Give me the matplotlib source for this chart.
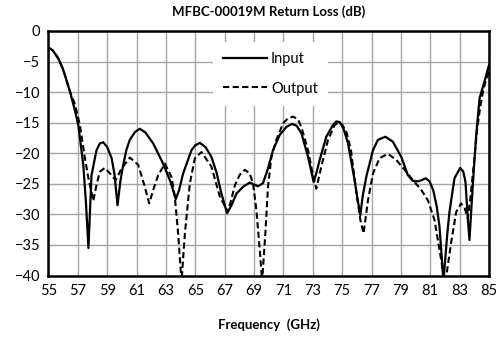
import matplotlib
matplotlib.use("Agg")
import matplotlib.pyplot as plt
import numpy as np

plt.rcParams['font.family'] = ['Lato', 'DejaVu Sans']

# valores (GHz, dB)
freq_in = [55.0, 55.3, 55.67, 56.0, 56.46, 56.8, 57.03, 57.37, 57.55, 57.72,
           57.93, 58.27, 58.5, 58.73, 59.0, 59.3, 59.5, 59.7, 59.9, 60.09,
           60.3, 60.54, 60.9, 61.22, 61.6, 62.13, 62.81, 63.3, 63.67, 63.9,
           64.17, 64.74, 65.0, 65.31, 65.7, 66.1, 66.45, 66.78, 67.16, 67.45,
           67.8, 68.25, 68.7, 69.27, 69.61, 69.95, 70.29, 70.75, 71.2, 71.59,
           71.9, 72.22, 72.68, 72.9, 73.06, 73.25, 73.47, 73.92, 74.37, 74.6,
           74.83, 75.1, 75.4, 75.85, 76.05, 76.24, 76.4, 76.65, 77.1, 77.44,
           77.95, 78.45, 79.03, 79.48, 79.8, 80.2, 80.7, 80.95, 81.2, 81.45,
           81.63, 81.8, 81.9, 82.0, 82.15, 82.31, 82.65, 83.04, 83.25, 83.4,
           83.56, 83.67, 83.9, 84.13, 84.36, 84.69, 85.0]
rl_in = [-2.7, -3.2, -4.5, -6.3, -9.9, -13.0, -15.4, -21.9, -28.0, -35.5,
         -23.6, -19.5, -18.4, -18.2, -19.0, -20.8, -23.5, -28.5, -24.5, -21.9,
         -19.5, -17.8, -16.5, -16.0, -16.6, -18.4, -21.7, -24.6, -27.5, -26.0,
         -23.3, -19.5, -18.7, -18.3, -19.0, -20.6, -23.2, -26.6, -29.8, -28.6,
         -26.6, -25.5, -24.8, -25.4, -24.9, -22.5, -19.5, -17.0, -15.7, -15.2,
         -15.5, -16.7, -20.6, -23.0, -24.7, -23.2, -21.1, -17.3, -15.4, -14.8,
         -14.9, -16.0, -18.4, -24.4, -27.5, -30.1, -27.0, -23.8, -19.5, -17.8,
         -17.3, -18.1, -20.6, -23.6, -24.5, -24.6, -24.1, -24.6, -26.0, -28.8,
         -32.0, -37.5, -41.0, -38.0, -33.5, -29.6, -24.1, -22.4, -23.0, -24.7,
         -30.7, -34.2, -25.2, -17.0, -11.0, -8.3, -5.6]

freq_out = [55.0, 55.3, 55.67, 56.0, 56.46, 56.8, 57.14, 57.48, 57.75, 57.93,
            58.05, 58.27, 58.5, 58.84, 59.3, 59.57, 59.98, 60.54, 61.11, 61.5,
            61.86, 62.2, 62.47, 62.93, 63.38, 63.6, 63.83, 64.06, 64.29, 64.63,
            64.97, 65.42, 66.1, 66.67, 67.23, 67.69, 68.03, 68.37, 68.7, 68.93,
            69.16, 69.39, 69.55, 69.77, 69.95, 70.18, 70.52, 70.98, 71.3, 71.66,
            72.0, 72.22, 72.68, 73.0, 73.24, 73.58, 74.04, 74.49, 74.72, 75.0,
            75.3, 75.6, 75.97, 76.25, 76.46, 76.76, 77.1, 77.55, 78.12, 78.69,
            79.25, 79.82, 80.39, 80.84, 81.29, 81.63, 81.85, 82.04, 82.25, 82.43,
            82.77, 83.1, 83.35, 83.56, 83.75, 84.0, 84.2, 84.4, 84.6, 84.8, 85.0]
rl_out = [-2.7, -3.2, -4.5, -6.3, -9.9, -12.0, -15.4, -20.8, -24.5, -26.3,
          -27.8, -25.2, -23.0, -22.4, -23.6, -24.4, -22.5, -20.7, -21.9, -25.0,
          -28.2, -25.5, -23.6, -21.7, -23.9, -27.0, -33.1, -41.0, -33.1, -24.9,
          -20.8, -19.8, -22.2, -27.1, -29.6, -25.3, -23.5, -22.7, -23.3, -24.9,
          -29.3, -35.8, -41.0, -33.1, -25.5, -20.6, -17.8, -15.1, -14.3, -14.0,
          -14.5, -15.7, -19.5, -23.5, -25.8, -22.2, -17.8, -15.4, -15.0, -15.3,
          -16.6, -19.5, -26.5, -31.0, -33.1, -27.7, -23.3, -20.8, -20.1, -21.1,
          -22.7, -24.4, -26.0, -27.7, -30.9, -35.8, -39.0, -41.0, -37.5, -34.5,
          -29.6, -28.2, -29.0, -30.7, -27.0, -21.0, -16.0, -12.5, -9.8, -8.0, -6.6]

xticks = [55, 57, 59, 61, 63, 65, 67, 69, 71, 73, 75, 77, 79, 81, 83, 85]
yticks = [0, -5, -10, -15, -20, -25, -30, -35, -40]

fig = plt.figure(figsize=(5.03, 3.39), dpi=100)
ax = fig.add_axes([0.0964, 0.1873, 0.8757, 0.7213])

ax.plot(freq_in, rl_in, color='black', lw=1.6, label='Input', zorder=3)
ax.plot(freq_out, rl_out, color='black', lw=1.5, dashes=(3, 1.6),
        label='Output', zorder=3)

ax.set_xlim(55, 85)
ax.set_ylim(-40, 0)
ax.set_xticks(xticks)
ax.set_yticks(yticks)
ax.tick_params(length=0, labelsize=10.5, pad=6)
ax.grid(True, color='#a6a6a6', lw=1)
ax.set_axisbelow(True)
for s in ax.spines.values():
    s.set_linewidth(1.8)

ax.set_title("MFBC-00019M Return Loss (dB)", fontsize=9.5, fontweight='bold', pad=11)
ax.set_xlabel("Frequency  (GHz)", fontsize=9.5, fontweight='bold', labelpad=15)

leg = ax.legend(loc='upper left', bbox_to_anchor=(0.373, 0.955), fontsize=10.5,
                frameon=True, fancybox=False, edgecolor='none', facecolor='white',
                framealpha=1, handlelength=3.0, handletextpad=0.3,
                labelspacing=1.05, borderpad=0.7, borderaxespad=0)

fig.savefig("out.png", dpi=100)
